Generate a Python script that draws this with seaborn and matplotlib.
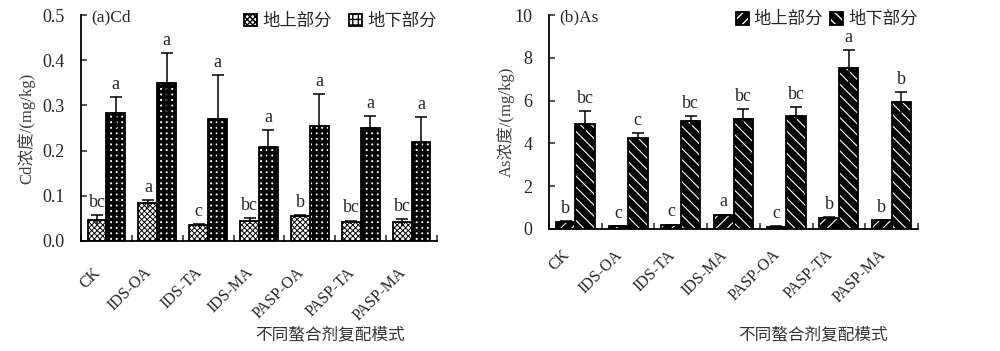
import numpy as np
import pandas as pd
import matplotlib
matplotlib.use("Agg")
import matplotlib.pyplot as plt
import matplotlib.patches as mpatches
import matplotlib.transforms as mtrans
import seaborn as sns

# ---- data ------------------------------------------------------------------
modes = ["CK", "IDS-OA", "IDS-TA", "IDS-MA", "PASP-OA", "PASP-TA", "PASP-MA"]
parts = ["地上部分", "地下部分"]

cd_shoot = [0.047, 0.083, 0.035, 0.044, 0.055, 0.041, 0.041]
cd_shoot_err = [0.010, 0.007, 0.003, 0.006, 0.002, 0.004, 0.007]
cd_root = [0.284, 0.349, 0.271, 0.207, 0.255, 0.251, 0.219]
cd_root_err = [0.035, 0.066, 0.097, 0.038, 0.071, 0.026, 0.055]
cd_shoot_sig = ["bc", "a", "c", "bc", "b", "bc", "bc"]
cd_root_sig = ["a", "a", "a", "a", "a", "a", "a"]

as_shoot = [0.34, 0.12, 0.19, 0.64, 0.11, 0.50, 0.40]
as_shoot_err = [0.02, 0.01, 0.02, 0.03, 0.02, 0.05, 0.02]
as_root = [4.91, 4.24, 5.03, 5.14, 5.26, 7.52, 5.92]
as_root_err = [0.60, 0.26, 0.26, 0.45, 0.45, 0.86, 0.50]
as_shoot_sig = ["b", "c", "c", "a", "c", "b", "b"]
as_root_sig = ["bc", "c", "bc", "bc", "bc", "a", "b"]

sns.set_style("ticks")
plt.rcParams["font.family"] = ["Liberation Serif", "Noto Sans CJK SC"]
plt.rcParams["hatch.linewidth"] = 1.0

fig = plt.figure(figsize=(10, 3.51), dpi=100)
ax_a = fig.add_axes([0.081, 0.3134, 0.356, 0.6436])
ax_b = fig.add_axes([0.549, 0.3476, 0.369, 0.6094])


def panel(ax, shoot, shoot_err, root, root_err, sig_s, sig_r, styles,
          ylim, yticks, fmt, ylabel, tag, ylab_x, xlab_pos, leg_pos, colsp, xpad):
    df = pd.DataFrame({"mode": modes * 2,
                       "part": [parts[0]] * 7 + [parts[1]] * 7,
                       "value": shoot + root})
    sns.barplot(data=df, x="mode", y="value", hue="part", order=modes,
                hue_order=parts, width=0.74, errorbar=None, ax=ax, legend=False)

    handles = []
    for cont, (fc, hc, hatch, hlw), err, sig in zip(
            ax.containers, styles, [shoot_err, root_err], [sig_s, sig_r]):
        xs, tops = [], []
        for p in cont:
            p.set_facecolor(fc)
            p.set_edgecolor(hc)
            p.set_hatch(hatch)
            p.set_linewidth(0)
            if hasattr(p, "set_hatch_linewidth"):
                p.set_hatch_linewidth(hlw)
            ax.add_patch(mpatches.Rectangle(p.get_xy(), p.get_width(), p.get_height(),
                                            fill=False, ec="black", lw=1.3, zorder=3))
            xs.append(p.get_x() + p.get_width() / 2)
            tops.append(p.get_height())
        zeros = np.zeros(len(err))
        ax.errorbar(xs, tops, yerr=[zeros, err], fmt="none", ecolor="black",
                    elinewidth=1.1, capsize=4.5, capthick=1.1, zorder=4)
        ax.errorbar(xs, tops, yerr=[err, zeros], fmt="none", ecolor="black",
                    elinewidth=1.1, capsize=0, zorder=4)
        for x, t, e, s in zip(xs, tops, err, sig):
            ax.annotate(s, (x, t + e), xytext=(0, 3), textcoords="offset points",
                        ha="center", va="bottom", fontsize=13)
        sw = mpatches.Patch(facecolor=fc, edgecolor=hc, hatch=hatch, lw=0)
        if hasattr(sw, "set_hatch_linewidth"):
            sw.set_hatch_linewidth(hlw)
        ol = mpatches.Patch(fill=False, edgecolor="black", lw=1.3)
        handles.append((sw, ol))

    ax.legend(handles, parts, loc="center right", bbox_to_anchor=leg_pos, ncol=2,
              frameon=False, fontsize=12.5, handlelength=0.75, handleheight=0.75,
              handletextpad=0.3, columnspacing=colsp, borderpad=0, borderaxespad=0)

    ax.set_xlim(-0.5, 6.5)
    ax.set_ylim(*ylim)
    ax.set_yticks(yticks)
    ax.set_yticklabels([fmt.format(v) for v in yticks], fontsize=13)
    ax.tick_params(axis="y", direction="in", length=4, width=1.1, pad=12)

    ax.set_xticks(range(len(modes)))
    ax.set_xticklabels(modes, rotation=45, ha="right", va="top",
                       rotation_mode="anchor", fontsize=11.5)
    ax.set_xticks(np.arange(-0.5, 7, 1), minor=True)
    ax.tick_params(axis="x", which="major", length=0, pad=xpad)
    ax.tick_params(axis="x", which="minor", direction="in", length=4, width=1.1)
    shift = mtrans.ScaledTranslation(-14 / 100, 0, fig.dpi_scale_trans)
    for lab in ax.get_xticklabels():
        lab.set_transform(lab.get_transform() + shift)

    ax.set_xlabel("不同螯合剂复配模式", fontsize=12, color="#333333")
    ax.xaxis.set_label_coords(*xlab_pos)
    ax.set_ylabel(ylabel, fontsize=12, color="#404040")
    ax.yaxis.set_label_coords(ylab_x, 0.5)
    ax.text(0.028, 0.99, tag, transform=ax.transAxes, ha="left", va="center",
            fontsize=12.5)

    sns.despine(ax=ax)
    for side in ["left", "bottom"]:
        ax.spines[side].set_linewidth(1.3)
        ax.spines[side].set_color("black")


panel(ax_a, cd_shoot, cd_shoot_err, cd_root, cd_root_err, cd_shoot_sig, cd_root_sig,
      [("white", "black", "xxxxxx", 0.7), ("white", "black", "+++", 2.6)],
      (0, 0.5), np.arange(0, 0.51, 0.1), "{:.1f}", "Cd浓度/(mg/kg)", "(a)Cd",
      -0.129, (0.70, -0.381), (1.0, 0.97), 1.0, 17)

panel(ax_b, as_shoot, as_shoot_err, as_root, as_root_err, as_shoot_sig, as_root_sig,
      [("black", "white", "///", 0.8), ("black", "white", "\\\\\\", 0.8)],
      (0, 10), np.arange(0, 10.1, 2), "{:.0f}", "As浓度/(mg/kg)", "(b)As",
      -0.092, (0.715, -0.458), (1.0, 0.977), 0.4, 13)

fig.savefig("out.png", dpi=100)
